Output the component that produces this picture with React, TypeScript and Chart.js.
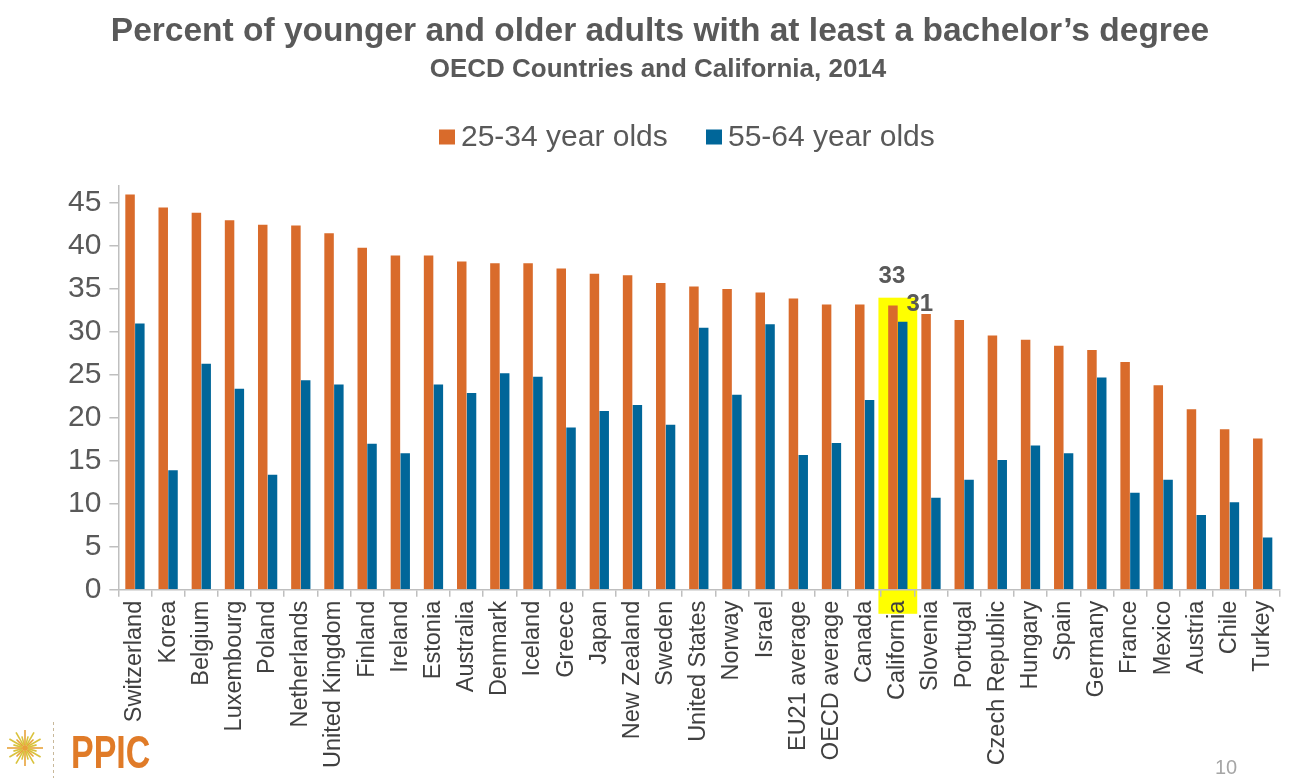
import React, { useEffect, useRef } from "react";
import { Chart, registerables } from "chart.js";

Chart.register(...registerables);

const categories = [
  "Switzerland", "Korea", "Belgium", "Luxembourg", "Poland", "Netherlands", "United Kingdom",
  "Finland", "Ireland", "Estonia", "Australia", "Denmark", "Iceland", "Greece", "Japan",
  "New Zealand", "Sweden", "United States", "Norway", "Israel", "EU21 average", "OECD average",
  "Canada", "California", "Slovenia", "Portugal", "Czech Republic", "Hungary", "Spain", "Germany",
  "France", "Mexico", "Austria", "Chile", "Turkey",
];

const young = [
  46.0, 44.5, 43.9, 43.0, 42.5, 42.4, 41.5, 39.8, 38.9, 38.9, 38.2, 38.0, 38.0, 37.4, 36.8,
  36.6, 35.7, 35.3, 35.0, 34.6, 33.9, 33.2, 33.2, 33.1, 32.1, 31.4, 29.6, 29.1, 28.4, 27.9,
  26.5, 23.8, 21.0, 18.7, 17.6,
];

const old = [
  31.0, 13.9, 26.3, 23.4, 13.4, 24.4, 23.9, 17.0, 15.9, 23.9, 22.9, 25.2, 24.8, 18.9, 20.8,
  21.5, 19.2, 30.5, 22.7, 30.9, 15.7, 17.1, 22.1, 31.2, 10.7, 12.8, 15.1, 16.8, 15.9, 24.7,
  11.3, 12.8, 8.7, 10.2, 6.1,
];

const seriesNames = ["25-34 year olds", "55-64 year olds"];
const yTicks = [0, 5, 10, 15, 20, 25, 30, 35, 40, 45];
const highlight = "California";
const titleText = "Percent of younger and older adults with at least a bachelor\u2019s degree";
const subtitleText = "OECD Countries and California, 2014";
const pageNumber = "10";

const ORANGE = "#D96B2B";
const BLUE = "#006699";
const FONT = '"Liberation Sans", Arial, sans-serif';

const decorPlugin = {
  id: "decor",
  beforeDraw(chart: any) {
    const { ctx, chartArea } = chart;
    const xs = chart.scales.x;
    const ys = chart.scales.y;
    ctx.save();
    ctx.fillStyle = "#ffffff";
    ctx.fillRect(0, 0, chart.width, chart.height);
    // highlight box
    const idx = categories.indexOf(highlight);
    const cx = xs.getPixelForValue(idx);
    const cw = (chartArea.right - chartArea.left) / categories.length;
    const w = cw * 1.17;
    const top = ys.getPixelForValue(34);
    ctx.fillStyle = "#FFFF00";
    ctx.fillRect(cx - w / 2, top, w, chartArea.bottom + 24 - top);
    ctx.restore();
  },
  afterDraw(chart: any) {
    const { ctx } = chart;
    ctx.save();
    // title
    ctx.fillStyle = "#595959";
    ctx.textAlign = "center";
    ctx.textBaseline = "alphabetic";
    ctx.font = `bold 33.5px ${FONT}`;
    ctx.fillText(titleText, 660, 41);
    ctx.font = `bold 26px ${FONT}`;
    ctx.fillText(subtitleText, 658, 77);

    // legend
    const legendY = 137;
    ctx.font = `30px ${FONT}`;
    ctx.textAlign = "left";
    ctx.textBaseline = "middle";
    const colors = [ORANGE, BLUE];
    const starts = [439, 706];
    seriesNames.forEach((name, i) => {
      ctx.fillStyle = colors[i];
      ctx.fillRect(starts[i], legendY - 7.5, 16, 15);
      ctx.fillStyle = "#595959";
      ctx.fillText(name, starts[i] + 22, legendY + 1);
    });

    // annotations for highlighted category
    const idx = categories.indexOf(highlight);
    const b0 = chart.getDatasetMeta(0).data[idx];
    const b1 = chart.getDatasetMeta(1).data[idx];
    ctx.font = `bold 24px ${FONT}`;
    ctx.fillStyle = "#595959";
    ctx.textAlign = "center";
    ctx.textBaseline = "alphabetic";
    ctx.fillText(String(Math.round(young[idx])), b0.x - 1, b0.y - 22);
    ctx.fillText(String(Math.round(old[idx])), b1.x + 17, b1.y - 11);

    // page number
    ctx.font = `20px ${FONT}`;
    ctx.fillStyle = "#A6A6A6";
    ctx.textAlign = "left";
    ctx.fillText(pageNumber, 1215, 774);

    // logo sunburst
    const sx = 25, sy = 748;
    for (let k = 0; k < 24; k++) {
      const a = (Math.PI * 2 * k) / 24;
      const r = k % 2 === 0 ? 18 : 12;
      ctx.strokeStyle = k % 3 === 0 ? "#E8A23A" : "#D9C23C";
      ctx.lineWidth = 1.6;
      ctx.beginPath();
      ctx.moveTo(sx + Math.cos(a) * 3, sy + Math.sin(a) * 3);
      ctx.lineTo(sx + Math.cos(a) * r, sy + Math.sin(a) * r);
      ctx.stroke();
    }
    ctx.fillStyle = "#E8A23A";
    ctx.beginPath();
    ctx.arc(sx, sy, 3, 0, Math.PI * 2);
    ctx.fill();
    // dashed divider
    ctx.strokeStyle = "#C8B89A";
    ctx.lineWidth = 1;
    ctx.setLineDash([3, 3]);
    ctx.beginPath();
    ctx.moveTo(53.5, 722);
    ctx.lineTo(53.5, 778);
    ctx.stroke();
    ctx.setLineDash([]);
    // PPIC text
    ctx.save();
    ctx.translate(71, 768);
    ctx.scale(1, 1.35);
    ctx.font = `bold 34px ${FONT}`;
    ctx.fillStyle = "#E07B28";
    ctx.textAlign = "left";
    ctx.textBaseline = "alphabetic";
    ctx.fillText("PPIC", 0, 0);
    ctx.restore();

    ctx.restore();
  },
};

export default function App() {
  const ref = useRef<HTMLCanvasElement | null>(null);
  useEffect(() => {
    if (!ref.current) return;
    const chart = new Chart(ref.current, {
      type: "bar",
      data: {
        labels: categories,
        datasets: [
          { label: seriesNames[0], data: young, backgroundColor: ORANGE, barPercentage: 0.97, categoryPercentage: 0.59 },
          { label: seriesNames[1], data: old, backgroundColor: BLUE, barPercentage: 0.97, categoryPercentage: 0.59 },
        ],
      },
      options: {
        responsive: false,
        animation: false,
        layout: { padding: { top: 186, left: 60, right: 8, bottom: 6 } },
        plugins: {
          legend: { display: false },
          tooltip: { enabled: false },
          title: { display: false },
        },
        scales: {
          x: {
            grid: { drawOnChartArea: false, offset: true, tickLength: 7, color: "#BFBFBF", lineWidth: 1.5 },
            border: { color: "#BFBFBF", width: 1.5 },
            ticks: {
              autoSkip: false,
              minRotation: 90,
              maxRotation: 90,
              padding: 4,
              color: "#404040",
              font: { size: 23.5, family: FONT },
            },
          },
          y: {
            min: 0,
            max: 47,
            afterBuildTicks: (scale: any) => {
              scale.ticks = yTicks.map((v) => ({ value: v }));
            },
            grid: { drawOnChartArea: false, tickLength: 9, color: "#BFBFBF", lineWidth: 1.5 },
            border: { color: "#BFBFBF", width: 1.5 },
            ticks: {
              padding: 8,
              color: "#595959",
              font: { size: 30, family: FONT },
            },
          },
        },
      },
      plugins: [decorPlugin],
    });
    return () => chart.destroy();
  }, []);
  return (
    <div style={{ position: "fixed", left: 0, top: 0, width: 1295, height: 778, background: "#fff" }}>
      <canvas ref={ref} width={1295} height={778} style={{ display: "block" }} />
    </div>
  );
}
